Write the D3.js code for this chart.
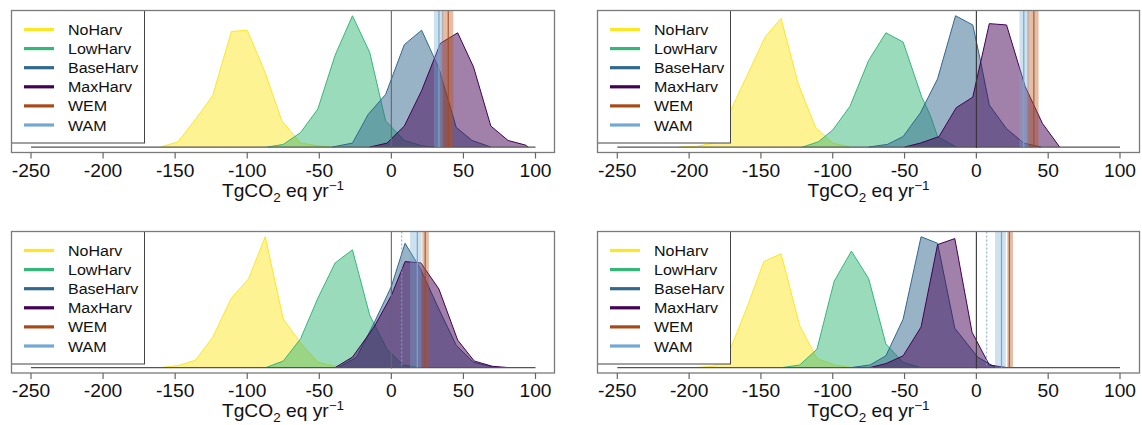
<!DOCTYPE html>
<html><head><meta charset="utf-8">
<script src="https://cdn.jsdelivr.net/npm/d3@7"></script>
<style>body{margin:0;background:#fff}svg{display:block;font-family:"Liberation Sans",Arial,Helvetica,sans-serif}</style>
</head><body><svg id="c" width="1142" height="425"></svg>
<script>
// ---------------- data ----------------
const scenarios = ["NoHarv", "LowHarv", "BaseHarv", "MaxHarv"];
const legendLabels = ["NoHarv", "LowHarv", "BaseHarv", "MaxHarv", "WEM", "WAM"];
const xTicks = [-250, -200, -150, -100, -50, 0, 50, 100];
const xLabel = "TgCO";

// density polygons: [TgCO2 eq yr-1, relative density]
const a_NoHarv  = [[-160,0],[-148,4],[-136,21],[-124,39],[-111,88],[-100,89],[-88,58],[-76,20],[-63,3],[-51,1],[-42,0]];
const a_LowHarv = [[-86,0],[-75,2],[-63,11],[-51,29],[-39,70],[-27,100],[-15,72],[-4,20],[9,5],[21,1],[30,0]];
const a_BaseHarv= [[-41,0],[-27,3],[-16,25],[-4,40],[9,78],[21,89],[33,60],[45,15],[56,5],[69,0]];
const a_MaxHarv = [[-15,0],[-3,3],[9,16],[21,43],[34,79],[46,87],[57,61],[69,16],[81,5],[93,1.5],[95,0]];

const b_NoHarv  = [[-207,0],[-195,0.5],[-183,3],[-171,28],[-159,56],[-147,84],[-136,98],[-124,48],[-112,15],[-100,3],[-88,0]];
const b_LowHarv = [[-121,0],[-110,4],[-100,13],[-88,31],[-75,66],[-63,87],[-51,80],[-38,38],[-32,24],[-27,8],[-14,0]];
const b_BaseHarv= [[-75,0],[-62,2],[-51,8],[-39,26],[-27,52],[-14.5,100],[-2.5,93],[3,65],[9,32],[21,14],[33,3],[45,0]];
const b_MaxHarv = [[-50,0],[-39,3],[-26,8],[-14,30],[-2.5,38],[9,94],[21,93],[34,46],[46,18],[58,0]];

const c_NoHarv  = [[-160,0],[-148,1.5],[-136,5.5],[-124,23],[-111,53],[-99,68],[-87.5,100],[-75,37],[-63,19],[-51,4],[-39,1],[-37,0]];
const c_LowHarv = [[-87,0],[-75,5],[-63,22],[-51,53],[-39,80],[-27,90],[-15,40],[-3,14],[8,2],[19,0]];
const c_BaseHarv= [[-37,0],[-24,8],[-12,34],[0,62],[9.5,95],[20,76],[32,47],[45,17],[57,4],[70,0.5],[75,0]];
const c_MaxHarv = [[-39,0],[-27,8],[-12,31],[0,55],[9.5,81],[20.5,80],[33,60],[46,21],[57.5,5],[70,1],[81,0]];

const d_NoHarv  = [[-195,0],[-183,1],[-171,15],[-159,48],[-148,81],[-136,87],[-123,32],[-111,7],[-99,2],[-87,0]];
const d_LowHarv = [[-135,0],[-123,2],[-111,14],[-99,66],[-87,89],[-75,68],[-63,18],[-51,4],[-39,0]];
const d_BaseHarv= [[-87,0],[-74,2],[-63,9],[-51,37],[-38.5,100],[-27,95],[-15,30],[1,8],[12,1],[21,0]];
const d_MaxHarv = [[-74,0],[-63,3],[-51,9],[-38.5,31],[-27,94],[-15,98.6],[-3,27],[9,2],[21,0]];

// reference projections (vertical lines and ranges), panels a..d
const wamLine = [33, 33, 18, 17.5];
const wamLo   = [29.5, 30, 13, 13];
const wamHi   = [36, 36.5, 21, 20.5];
const wamDot  = [null, null, 7.2, 7.2];
const wemLine = [39.5, 40, 23.5, 23];
const wemLo   = [35, 35.5, 21.5, 21.5];
const wemHi   = [43, 43.3, 26, 25.5];

const scenarioColors = ["#FDE725", "#35B779", "#31688E", "#440154"];
const legendColors = ["#FDE725", "#35B779", "#31688E", "#440154", "#A84A17", "#72A9D2"];

// ---------------- layout ----------------
const panelData = [
  [a_NoHarv, a_LowHarv, a_BaseHarv, a_MaxHarv],
  [b_NoHarv, b_LowHarv, b_BaseHarv, b_MaxHarv],
  [c_NoHarv, c_LowHarv, c_BaseHarv, c_MaxHarv],
  [d_NoHarv, d_LowHarv, d_BaseHarv, d_MaxHarv]
];
const cols = [{bx0: 11.5, bx1: 554.5, ax0: 31, ax1: 535.5}, {bx0: 597.5, bx1: 1139.5, ax0: 617.3, ax1: 1120}];
const rows = [{by0: 10.5, by1: 152.5}, {by0: 231.5, by1: 373.0}];

const svg = d3.select("#c");

panelData.forEach((series, i) => {
  const c = cols[i % 2], r = rows[Math.floor(i / 2)];
  const g = svg.append("g");
  const pad = (r.by1 - r.by0) * 0.04 / 1.08;
  const x = d3.scaleLinear().domain([-250, 100]).range([c.ax0, c.ax1]);
  const y = d3.scaleLinear().domain([0, 100]).range([r.by1 - pad - 0.2, r.by0 + pad]);

  const area = d3.area().x(d => x(d[0])).y0(y(0)).y1(d => y(d[1]));
  const line = d3.line().x(d => x(d[0])).y(d => y(d[1]));

  series.forEach((s, k) => {
    g.append("path").attr("d", area(s)).attr("fill", scenarioColors[k]).attr("fill-opacity", 0.5);
    g.append("path").attr("d", line(s)).attr("fill", "none").attr("stroke", scenarioColors[k])
      .attr("stroke-width", 1).attr("stroke-linejoin", "round");
  });

  // baseline
  g.append("line").attr("x1", x(-250)).attr("x2", x(100)).attr("y1", y(0)).attr("y2", y(0))
    .attr("stroke", "#555").attr("stroke-width", 1.3);
  // zero line
  g.append("line").attr("x1", x(0)).attr("x2", x(0)).attr("y1", r.by0).attr("y2", y(0) + 1)
    .attr("stroke", i % 2 === 0 ? "#666" : "#333").attr("stroke-width", 1.1);

  // WAM range + line
  g.append("rect").attr("x", x(wamLo[i])).attr("width", x(wamHi[i]) - x(wamLo[i]))
    .attr("y", r.by0).attr("height", y(0) - r.by0).attr("fill", "#72A9D2").attr("fill-opacity", 0.35);
  // WEM range + line
  g.append("rect").attr("x", x(wemLo[i])).attr("width", x(wemHi[i]) - x(wemLo[i]))
    .attr("y", r.by0).attr("height", y(0) - r.by0).attr("fill", "#B5541B").attr("fill-opacity", 0.38);
  g.append("line").attr("x1", x(wamLine[i])).attr("x2", x(wamLine[i])).attr("y1", r.by0).attr("y2", y(0))
    .attr("stroke", "#72A9D2").attr("stroke-width", 1.2);
  g.append("line").attr("x1", x(wemLine[i])).attr("x2", x(wemLine[i])).attr("y1", r.by0).attr("y2", y(0))
    .attr("stroke", "#A84A17").attr("stroke-width", 1.3).attr("stroke-opacity", 0.8);
  if (wamDot[i] !== null) {
    g.append("line").attr("x1", x(wamDot[i])).attr("x2", x(wamDot[i])).attr("y1", r.by0).attr("y2", y(0))
      .attr("stroke", "#72A9D2").attr("stroke-width", 1).attr("stroke-dasharray", "2,2");
  }

  // legend
  const lx0 = c.bx0, ly0 = r.by0, lw = 133, lh = 132.5;
  g.append("rect").attr("x", lx0).attr("y", ly0).attr("width", lw).attr("height", lh)
    .attr("fill", "#fff").attr("stroke", "#444").attr("stroke-width", 1);
  legendLabels.forEach((lab, k) => {
    const yy = ly0 + 19 + k * 19.1;
    g.append("line").attr("x1", lx0 + 12.5).attr("x2", lx0 + 42.5).attr("y1", yy).attr("y2", yy)
      .attr("stroke", legendColors[k]).attr("stroke-width", 3.2);
    g.append("text").attr("transform", `translate(${lx0 + 56.5},${yy + 5.5}) scale(1.04,1)`)
      .attr("font-size", 15.4).attr("fill", "#111").text(lab);
  });

  // box
  g.append("rect").attr("x", c.bx0).attr("y", r.by0).attr("width", c.bx1 - c.bx0).attr("height", r.by1 - r.by0)
    .attr("fill", "none").attr("stroke", "#7a7a7a").attr("stroke-width", 1.3);

  // ticks + labels
  xTicks.forEach(t => {
    g.append("line").attr("x1", x(t)).attr("x2", x(t)).attr("y1", r.by1).attr("y2", r.by1 + 6)
      .attr("stroke", "#666").attr("stroke-width", 1.2);
    g.append("text").attr("transform", `translate(${x(t)},${r.by1 + 24}) scale(1.08,1)`)
      .attr("text-anchor", "middle").attr("font-size", 17.8).attr("fill", "#111").text(t);
  });

  // axis title
  const tt = g.append("text").attr("transform", `translate(${(c.bx0 + c.bx1) / 2},${r.by1 + 44}) scale(1.08,1)`)
    .attr("text-anchor", "middle").attr("font-size", 17.8).attr("fill", "#111");
  tt.append("tspan").text(xLabel);
  tt.append("tspan").attr("font-size", 12.5).attr("dy", 5).text("2");
  tt.append("tspan").attr("dy", -5).text(" eq yr");
  tt.append("tspan").attr("font-size", 12.5).attr("dy", -7).text("\u22121");
});
</script></body></html>
